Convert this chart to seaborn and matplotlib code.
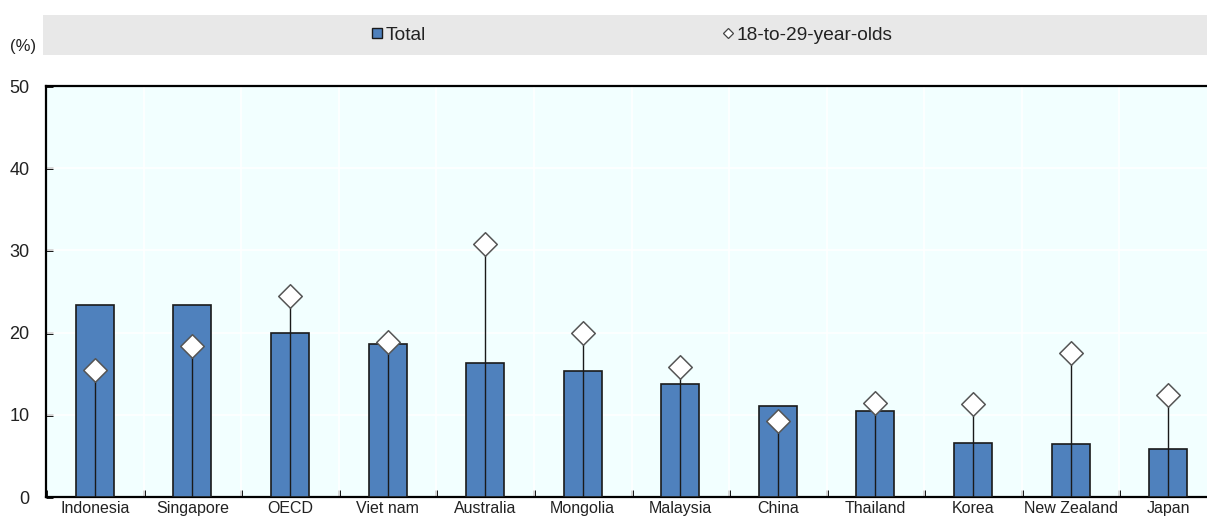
import matplotlib
matplotlib.use("Agg")
import matplotlib.pyplot as plt
import seaborn as sns
import pandas as pd
import numpy as np
from matplotlib.lines import Line2D

countries = ["Indonesia", "Singapore", "OECD", "Viet nam", "Australia", "Mongolia",
             "Malaysia", "China", "Thailand", "Korea", "New Zealand", "Japan"]
total = [23.4, 23.3, 19.9, 18.6, 16.3, 15.3, 13.7, 11.1, 10.5, 6.6, 6.4, 5.8]
youth = [15.4, 18.4, 24.4, 18.9, 30.8, 19.9, 15.8, 9.2, 11.4, 11.3, 17.5, 12.4]
y_ticks = [0, 10, 20, 30, 40, 50]
legend_labels = ["Total", "18-to-29-year-olds"]
unit_label = "(%)"

sns.set_theme(style="white")
plt.rcParams["font.family"] = ["Liberation Sans", "DejaVu Sans"]

BAR = "#4f81bd"
BG = "#f2ffff"

df = pd.DataFrame({"country": countries, "total": total, "youth": youth})

W, H = 1207, 520
fig = plt.figure(figsize=(W / 100, H / 100), dpi=100)
ax = fig.add_axes([46 / W, (H - 497) / H, (1217 - 46) / W, (497 - 86) / H])
ax.set_facecolor(BG)

sns.barplot(data=df, x="country", y="total", color=BAR, width=0.39,
            edgecolor="#1a1a1a", linewidth=1.2, saturation=1, ax=ax, zorder=3)
ax.vlines(np.arange(len(countries)), 0, df["youth"], color="#1a1a1a",
          linewidth=1.0, zorder=4)
sns.stripplot(data=df, x="country", y="youth", jitter=False, marker="D",
              size=12, color="white", edgecolor="#555555", linewidth=1.1,
              ax=ax, zorder=5)

ax.set_xlim(-0.5, len(countries) - 0.5)
ax.set_ylim(0, 50)
ax.set_yticks(y_ticks)
ax.set_xlabel("")
ax.set_ylabel("")

# gridlines
ax.set_xticks(np.arange(-0.5, len(countries), 1.0), minor=True)
ax.grid(False)
for v in y_ticks[1:-1]:
    ax.axhline(v, color="white", linewidth=1.2, zorder=1)
for b in np.arange(0.5, len(countries) - 0.5, 1.0):
    ax.axvline(b, color="white", linewidth=1.2, zorder=1)

ax.tick_params(axis="x", which="major", length=0, pad=3, labelsize=11.5, labelcolor="#222222")
ax.tick_params(axis="x", which="minor", direction="in", length=5, width=2,
               color="black", bottom=True)
ax.tick_params(axis="y", direction="in", length=5, width=2, color="black",
               pad=12, labelsize=13, labelcolor="#222222", left=True)

for side in ["left", "bottom", "top"]:
    ax.spines[side].set_visible(True)
    ax.spines[side].set_color("black")
    ax.spines[side].set_linewidth(1.6)
ax.spines["right"].set_visible(False)

# legend band
band = plt.Rectangle((43 / W, (H - 55) / H), 1.0, 40 / H, transform=fig.transFigure,
                     facecolor="#e8e8e8", edgecolor="none", zorder=0)
fig.patches.append(band)

h1 = Line2D([], [], linestyle="none", marker="s", markersize=6.7,
            markerfacecolor=BAR, markeredgecolor="#1a1a1a", markeredgewidth=1.0)
h2 = Line2D([], [], linestyle="none", marker="D", markersize=5.4,
            markerfacecolor="white", markeredgecolor="#444444", markeredgewidth=0.9)
leg_y = (H - 35) / H
l1 = fig.legend(handles=[h1], labels=[legend_labels[0]], loc="center left",
                bbox_to_anchor=(370 / W, leg_y), frameon=False, fontsize=13.8,
                handlelength=0.7, handletextpad=0.1, borderpad=0, borderaxespad=0)
l2 = fig.legend(handles=[h2], labels=[legend_labels[1]], loc="center left",
                bbox_to_anchor=(721 / W, leg_y), frameon=False, fontsize=13.8,
                handlelength=0.7, handletextpad=0.1, borderpad=0, borderaxespad=0)
for t in l1.get_texts() + l2.get_texts():
    t.set_color("#222222")

fig.text(10 / W, (H - 47) / H, unit_label, ha="left", va="center",
         fontsize=12, color="#222222")

fig.savefig("out.png", dpi=100)
